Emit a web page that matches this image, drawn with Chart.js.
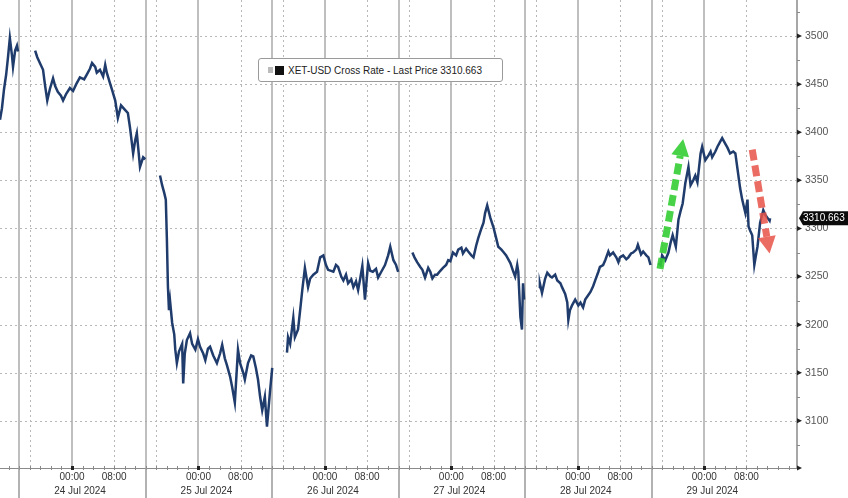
<!DOCTYPE html>
<html>
<head>
<meta charset="utf-8">
<script src="https://cdn.jsdelivr.net/npm/chart.js@4"></script>
<style>
  html, body { margin: 0; padding: 0; background: #fff; }
  #wrap { position: relative; width: 848px; height: 498px; }
  #legendBox {
    position: absolute; left: 258px; top: 58px; height: 22px; width: 243px;
    border: 1px solid #9a9a9a; border-radius: 3px; background: #fff;
    font: 10px "Liberation Sans", Arial, sans-serif; color: #222;
    display: flex; align-items: center; box-sizing: content-box;
  }
  #legendBox .g { width: 5px; height: 6px; background: #bbb; margin-left: 9px; }
  #legendBox .b { width: 9px; height: 9px; background: #111; margin-left: 2px; margin-right: 4px; }
</style>
</head>
<body>
<div id="wrap">
  <canvas id="xetChart" width="848" height="498"></canvas>
  <div id="legendBox"><span class="g"></span><span class="b"></span><span id="legendText">XET-USD Cross Rate - Last Price 3310.663</span></div>
</div>
<script>
// hours counted from 24 Jul 2024 00:00, null = gap in the feed
const hours = [
  -13.67, -13.3, -12.9, -12.5, -12.15, -11.8, -11.4, -11.2, -10.8, -10.45, -10.25, -9,
  -7.0, -6.6, -6.1, -5.5, -5.1, -4.7, -4.2, -3.6, -3.2, -2.7, -2.1, -1.7, -1.1, -0.4, 0.2, 0.8,
  1.5, 2.3, 2.8, 3.4, 3.8, 4.4, 4.7, 5.3, 5.9, 6.3, 6.6, 7.2, 7.6, 8.2, 8.7, 9.3, 10.1, 10.6,
  11.0, 11.6, 12.0, 12.3, 12.9, 13.5, 13.9, 15,
  16.7, 17.1, 17.5, 17.8, 18.0, 18.2, 18.4, 18.6, 19.0, 19.4, 19.6, 19.9, 20.3, 20.9, 21.1, 21.4,
  21.8, 22.4, 22.8, 23.4, 23.9, 24.3, 24.9, 25.3, 25.8, 26.2, 26.8, 27.5, 28.1, 28.5, 29.0, 29.4,
  30.0, 30.4, 30.9, 31.5, 31.9, 32.5, 32.8, 33.4, 34.0, 34.4, 34.9, 35.3, 35.7, 36.1, 36.6, 37.0,
  37.6, 38.0, 39,
  40.8, 41.0, 41.4, 42.0, 42.3, 42.9, 43.3, 43.7, 44.2, 44.8, 45.2, 45.8, 46.5, 47.1, 47.7, 48.2,
  48.6, 49.6, 50.1, 50.5, 51.1, 51.5, 52.0, 52.4, 53.0, 53.4, 53.9, 54.3, 54.7, 55.1, 55.6, 56.2,
  56.6, 57.1, 57.7, 58.1, 58.7, 59.4, 60.0, 60.4, 61.0, 61.5, 61.9, 63,
  64.6, 65.0, 65.5, 66.1, 66.5, 67.0, 67.6, 68.0, 68.4, 68.9, 69.3, 69.9, 70.4, 71.0, 71.4, 71.8,
  72.3, 72.9, 73.3, 73.9, 74.2, 74.8, 75.2, 75.8, 76.2, 76.7, 77.1, 77.7, 78.1, 78.4, 78.8, 79.4,
  80.0, 80.5, 80.9, 81.5, 81.8, 82.4, 83.2, 83.7, 84.1, 84.5, 84.7, 85.1, 85.4, 85.6, 85.8, 87,
  88.7, 88.8, 89.2, 89.8, 90.2, 90.8, 91.1, 91.7, 92.1, 92.7, 93.0, 93.6, 94.0, 94.2, 94.5, 94.9,
  95.5, 96.1, 96.5, 97.0, 97.4, 97.9, 98.4, 98.9, 99.3, 99.9, 100.2, 100.8, 101.2, 101.8, 102.1, 102.7,
  103.3, 103.7, 104.0, 104.6, 105.2, 105.6, 106.1, 106.5, 107.1, 107.4, 108.0, 108.4, 109.0, 109.4, 109.8, 110.5,
  111.3, 111.7, 112.0, 112.6, 113.2, 113.6, 114.0, 114.6, 115.1, 115.5, 115.9, 116.4, 117.0, 117.4, 117.9, 118.3,
  118.7, 119.3, 119.6, 120.2, 120.8, 121.2, 121.5, 122.1, 122.5, 123.0, 123.4, 124.0, 124.4, 124.9, 125.5, 125.9,
  126.4, 126.8, 127.2, 127.8, 128.2, 128.4, 128.7, 129.1, 129.5, 129.9, 130.1, 130.6, 131.2, 131.6, 132.0, 132.4, 132.5
];
const prices = [
  3413, 3425, 3445, 3460, 3478, 3498, 3480, 3468, 3485, 3490, 3484, null,
  3485, 3478, 3472, 3465, 3448, 3433, 3445, 3456, 3448, 3442, 3438, 3433, 3440, 3446, 3443, 3450,
  3457, 3455, 3460, 3466, 3472, 3468, 3462, 3465, 3458, 3470, 3462, 3451, 3444, 3433, 3415, 3428, 3423, 3420,
  3405, 3378, 3392, 3399, 3364, 3374, 3372, null,
  3355, 3345, 3337, 3330, 3290, 3240, 3215, 3225, 3202, 3190, 3174, 3160, 3172, 3180, 3139, 3170,
  3184, 3191, 3180, 3174, 3185, 3177, 3170, 3163, 3175, 3177, 3168, 3160, 3170, 3179, 3165, 3158,
  3146, 3135, 3119, 3174, 3160, 3150, 3143, 3160, 3168, 3167, 3155, 3143, 3125, 3111, 3125, 3094,
  3132, 3155, null,
  3171, 3187, 3180, 3207, 3187, 3195, 3215, 3236, 3259, 3239, 3248, 3252, 3255, 3270, 3272, 3262,
  3257, 3255, 3262, 3260, 3250, 3246, 3252, 3243, 3247, 3239, 3245, 3236, 3248, 3261, 3226, 3264,
  3256, 3255, 3258, 3249, 3255, 3262, 3272, 3281, 3267, 3262, 3255, null,
  3275, 3270, 3265, 3260, 3257, 3249, 3259, 3255, 3248, 3252, 3252, 3256, 3259, 3262, 3267, 3266,
  3275, 3272, 3278, 3280, 3274, 3279, 3276, 3272, 3270, 3282, 3290, 3300, 3306, 3316, 3324, 3311,
  3301, 3290, 3281, 3278, 3276, 3272, 3264, 3256, 3250, 3262, 3255, 3208, 3195, 3243, 3226, null,
  3238, 3243, 3233, 3248, 3254, 3250, 3249, 3252, 3246, 3243, 3239, 3232, 3223, 3205, 3215, 3220,
  3226, 3220, 3223, 3218, 3226, 3230, 3234, 3240, 3246, 3255, 3260, 3262, 3267, 3276, 3272, 3275,
  3270, 3265, 3270, 3272, 3268, 3270, 3274, 3275, 3278, 3283, 3273, 3276, 3272, 3270, 3262, null,
  3264, 3262, 3272, 3267, 3275, 3285, 3293, 3281, 3309, 3318, 3326, 3347, 3364, 3345, 3350, 3355,
  3348, 3378, 3385, 3371, 3376, 3380, 3374, 3380, 3385, 3390, 3394, 3388, 3384, 3378, 3380, 3378,
  3358, 3342, 3330, 3316, 3330, 3302, 3298, 3293, 3262, 3275, 3281, 3306, 3319, 3314, 3311, 3308, 3310.663
];
const yTicks = [3100, 3150, 3200, 3250, 3300, 3350, 3400, 3450, 3500];
const dayStarts = [0, 24, 48, 72, 96, 120];
const dayLabels = ['24 Jul 2024', '25 Jul 2024', '26 Jul 2024', '27 Jul 2024', '28 Jul 2024', '29 Jul 2024'];
const lastPrice = 3310.663;
// arrows drawn on the chart: [fromHour, fromPrice, toHour, toPrice]
const upArrow = [111.6, 3258, 116.0, 3393];
const downArrow = [129.1, 3382, 132.4, 3274];

const ctx = document.getElementById('xetChart').getContext('2d');
const lastGridHour = 128;

function drawArrow(c, xs, ys, a, color) {
  const x1 = xs.getPixelForValue(a[0]), y1 = ys.getPixelForValue(a[1]);
  const x2 = xs.getPixelForValue(a[2]), y2 = ys.getPixelForValue(a[3]);
  const ang = Math.atan2(y2 - y1, x2 - x1);
  const headLen = 17, headW = 9;
  const bx = x2 - Math.cos(ang) * headLen, by = y2 - Math.sin(ang) * headLen;
  c.save();
  c.strokeStyle = color;
  c.fillStyle = color;
  c.lineWidth = 7;
  c.setLineDash([11, 5]);
  c.beginPath();
  c.moveTo(x1, y1);
  c.lineTo(bx, by);
  c.stroke();
  c.setLineDash([]);
  c.beginPath();
  c.moveTo(x2, y2);
  c.lineTo(bx + Math.sin(ang) * headW, by - Math.cos(ang) * headW);
  c.lineTo(bx - Math.sin(ang) * headW, by + Math.cos(ang) * headW);
  c.closePath();
  c.fill();
  c.restore();
}

const bbgPlugin = {
  id: 'bbg',
  beforeDatasetsDraw(chart) {
    const c = chart.ctx, a = chart.chartArea;
    const xs = chart.scales.x, ys = chart.scales.y;
    c.save();
    c.beginPath();
    c.rect(a.left, a.top, a.right - a.left, a.bottom - a.top);
    c.clip();
    // horizontal dotted grid
    c.strokeStyle = '#b8b8b8';
    c.lineWidth = 1;
    c.setLineDash([2, 3]);
    yTicks.forEach(v => {
      const y = Math.round(ys.getPixelForValue(v)) + 0.5;
      c.beginPath(); c.moveTo(a.left, y); c.lineTo(a.right, y); c.stroke();
    });
    // vertical dotted at 08:00 and 16:00
    for (let d = -24; d <= 144; d += 24) {
      [8, 16].forEach(o => {
        if (d + o > lastGridHour) return;
        const x = Math.round(xs.getPixelForValue(d + o)) + 0.5;
        c.beginPath(); c.moveTo(x, a.top); c.lineTo(x, a.bottom); c.stroke();
      });
    }
    // vertical solid at midnight and 14:00 session break
    c.setLineDash([]);
    c.strokeStyle = '#aaaaaa';
    c.lineWidth = 1.5;
    for (let d = -24; d <= 144; d += 24) {
      [0, 14].forEach(o => {
        if (d + o > lastGridHour) return;
        const x = Math.round(xs.getPixelForValue(d + o));
        c.beginPath(); c.moveTo(x, a.top); c.lineTo(x, a.bottom); c.stroke();
      });
    }
    c.restore();
  },
  afterDraw(chart) {
    const c = chart.ctx, a = chart.chartArea;
    const xs = chart.scales.x, ys = chart.scales.y;
    c.save();
    // x axis line with small ticks
    c.strokeStyle = '#8a8a8a';
    c.lineWidth = 1;
    c.beginPath(); c.moveTo(a.left, a.bottom + 0.5); c.lineTo(a.right, a.bottom + 0.5); c.stroke();
    for (let h = -12; h <= 136; h += 2) {
      const x = Math.round(xs.getPixelForValue(h)) + 0.5;
      c.beginPath(); c.moveTo(x, a.bottom - 2); c.lineTo(x, a.bottom + 2); c.stroke();
    }
    // session separators in the axis band
    c.strokeStyle = '#999';
    c.lineWidth = 1.5;
    for (let d = -24; d <= 120; d += 24) {
      if (d + 14 > lastGridHour) continue;
      const x = Math.round(xs.getPixelForValue(d + 14));
      if (x < a.left || x > a.right) continue;
      c.beginPath(); c.moveTo(x, a.bottom); c.lineTo(x, chart.height); c.stroke();
    }
    // midnight tick marks
    c.fillStyle = '#222';
    dayStarts.forEach(d => {
      const x = Math.round(xs.getPixelForValue(d));
      c.fillRect(x - 1, a.bottom - 2, 3, 4);
    });
    // date labels
    c.font = '10px "Liberation Sans", Arial, sans-serif';
    c.fillStyle = '#333';
    c.textAlign = 'center';
    c.textBaseline = 'middle';
    dayStarts.forEach((d, i) => {
      c.fillText(dayLabels[i], xs.getPixelForValue(d) + 8, 491);
    });
    // y axis line and tick marks
    c.strokeStyle = '#8a8a8a';
    c.lineWidth = 1.5;
    c.beginPath(); c.moveTo(a.right, a.top); c.lineTo(a.right, a.bottom + 1); c.stroke();
    c.lineWidth = 1;
    for (let v = 3075; v <= 3525; v += 50) {
      const y = Math.round(ys.getPixelForValue(v)) + 0.5;
      c.beginPath(); c.moveTo(a.right, y); c.lineTo(a.right + 3, y); c.stroke();
    }
    c.fillStyle = '#222';
    yTicks.concat([3051]).forEach(v => {
      const y = ys.getPixelForValue(v);
      c.beginPath(); c.moveTo(a.right, y - 2.5); c.lineTo(a.right + 5, y); c.lineTo(a.right, y + 2.5); c.closePath(); c.fill();
    });
    // last price tag
    const ly = ys.getPixelForValue(lastPrice);
    c.fillStyle = '#0b0b0b';
    c.beginPath();
    c.moveTo(a.right + 2, ly);
    c.lineTo(a.right + 6, ly - 7);
    c.lineTo(chart.width, ly - 7);
    c.lineTo(chart.width, ly + 7);
    c.lineTo(a.right + 6, ly + 7);
    c.closePath();
    c.fill();
    c.fillStyle = '#fff';
    c.textAlign = 'left';
    c.font = '10px "Liberation Sans", Arial, sans-serif';
    c.fillText(lastPrice.toFixed(3), a.right + 6, ly + 0.5);
    c.restore();
  },
  afterDatasetsDraw(chart) {
    const xs = chart.scales.x, ys = chart.scales.y;
    drawArrow(chart.ctx, xs, ys, upArrow, 'rgba(52, 205, 52, 0.9)');
    drawArrow(chart.ctx, xs, ys, downArrow, 'rgba(232, 82, 72, 0.85)');
  }
};

const chart = new Chart(ctx, {
  type: 'line',
  data: {
    datasets: [{
      label: 'XET-USD Cross Rate',
      data: hours.map((h, i) => ({ x: h, y: prices[i] })),
      borderColor: '#203c6c',
      borderWidth: 2.5,
      pointRadius: 0,
      tension: 0,
      spanGaps: false
    }]
  },
  options: {
    responsive: false,
    animation: false,
    layout: { padding: 0 },
    plugins: {
      legend: { display: false },
      tooltip: { enabled: false }
    },
    scales: {
      x: {
        type: 'linear',
        min: -13.67,
        max: 137.6,
        afterBuildTicks(s) {
          const t = [];
          dayStarts.forEach(d => { t.push({ value: d }); t.push({ value: d + 8 }); });
          s.ticks = t;
        },
        afterFit(s) { s.height = 30; s.paddingLeft = 0; s.paddingRight = 0; },
        ticks: {
          autoSkip: false,
          maxRotation: 0,
          padding: 3,
          color: '#333',
          font: { family: '"Liberation Sans", Arial, sans-serif', size: 10 },
          callback: v => (v % 24 === 0 ? '00:00' : '08:00')
        },
        grid: { display: false, drawTicks: false },
        border: { display: false }
      },
      y: {
        position: 'right',
        min: 3051,
        max: 3537.5,
        afterBuildTicks(s) { s.ticks = yTicks.map(v => ({ value: v })); },
        afterFit(s) { s.width = 51; s.paddingTop = 0; s.paddingBottom = 0; },
        ticks: {
          padding: 8,
          color: '#555',
          font: { family: '"Liberation Sans", Arial, sans-serif', size: 10.5 },
          callback: v => String(v)
        },
        grid: { display: false, drawTicks: false },
        border: { display: false }
      }
    }
  },
  plugins: [bbgPlugin]
});
</script>
</body>
</html>
